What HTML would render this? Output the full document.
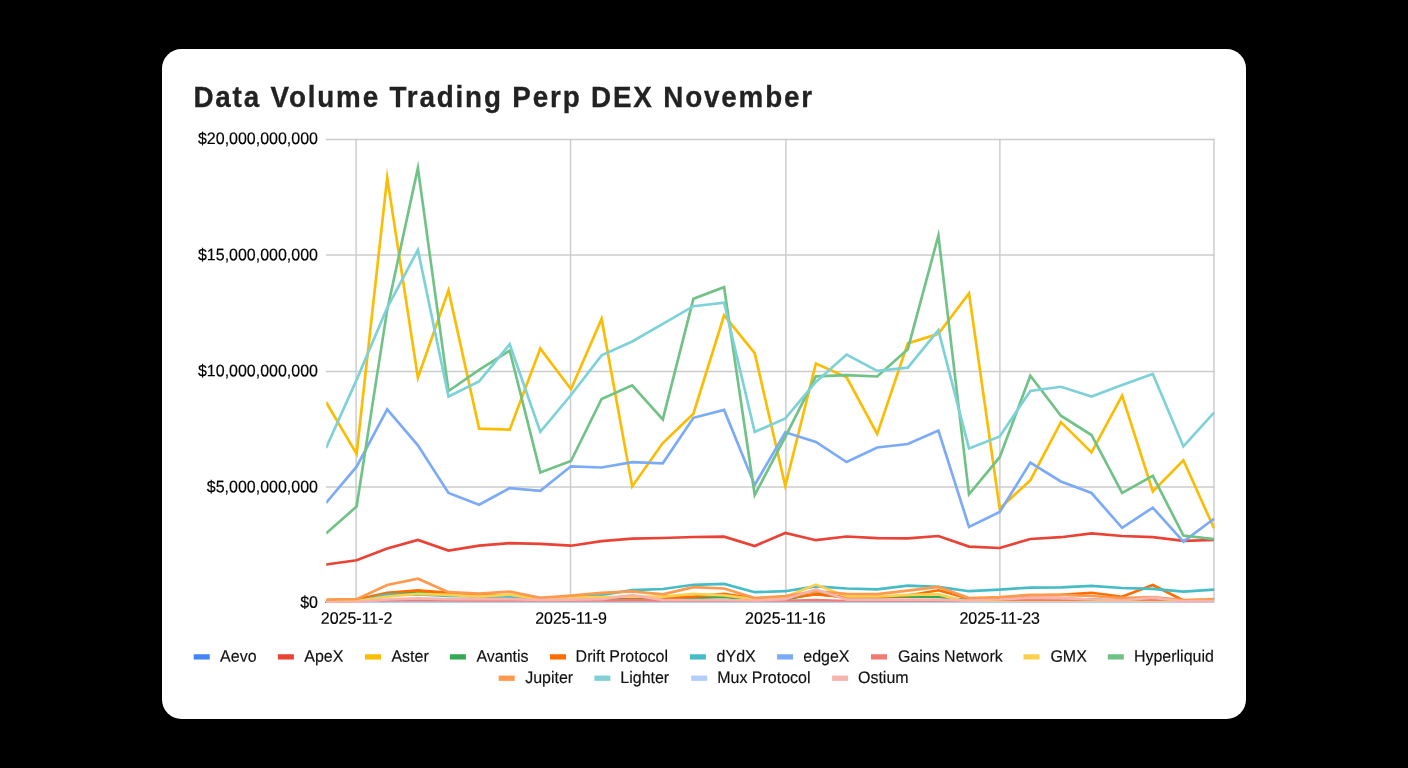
<!DOCTYPE html>
<html lang="en"><head><meta charset="utf-8"><title>Data Volume Trading Perp DEX November</title>
<style>
html,body{margin:0;padding:0;background:#000;}
body{width:1408px;height:768px;position:relative;overflow:hidden;font-family:"Liberation Sans",Arial,sans-serif;}
.card{position:absolute;left:162px;top:48.7px;width:1084px;height:670.3px;background:#fff;border-radius:19.5px;overflow:hidden;}
.title{position:absolute;left:31.4px;top:32.2px;margin:0;font-size:27.8px;line-height:34px;font-weight:700;color:#222;-webkit-text-stroke:0.3px #222;letter-spacing:1.84px;transform:scaleY(1.047);transform-origin:0 26px;white-space:nowrap;}
svg.chart{position:absolute;left:0;top:0.3px;}
svg text{font-family:"Liberation Sans",Arial,sans-serif;font-size:16px;fill:#000;stroke:#000;stroke-width:0.16px;}
svg .lg text{fill:#111;stroke:#111;}
</style></head><body>
<div class="card">
<h1 class="title">Data Volume Trading Perp DEX November</h1>
<svg class="chart" width="1084" height="670" viewBox="162 49 1084 670">
<defs><clipPath id="plot"><rect x="326.2" y="100" width="888.5" height="503.05"/></clipPath></defs>
<g stroke="#cccccc" stroke-width="1.45" fill="none">
<line x1="325.9" y1="139.45" x2="1214.7" y2="139.45"/>
<line x1="325.9" y1="254.95" x2="1214.7" y2="254.95"/>
<line x1="325.9" y1="371.45" x2="1214.7" y2="371.45"/>
<line x1="325.9" y1="486.95" x2="1214.7" y2="486.95"/>
<line x1="356.1" y1="138.7" x2="356.1" y2="602.6"/>
<line x1="570.5" y1="138.7" x2="570.5" y2="602.6"/>
<line x1="785.9" y1="138.7" x2="785.9" y2="602.6"/>
<line x1="999.9" y1="138.7" x2="999.9" y2="602.6"/>
<line x1="1214.0" y1="138.7" x2="1214.0" y2="602.6"/>
</g>
<line x1="325.3" y1="602.45" x2="1214.0" y2="602.45" stroke="#333333" stroke-width="1.33"/>
<g fill="none" stroke-width="2.67" stroke-linejoin="miter" stroke-miterlimit="100" stroke-linecap="butt" clip-path="url(#plot)">
<path d="M326.0,603.0 L356.6,603.0 L387.2,603.0 L417.9,603.0 L448.5,603.0 L479.1,603.0 L509.7,603.0 L540.3,603.0 L571.0,603.0 L601.6,603.0 L632.2,603.0 L662.8,603.0 L693.4,603.0 L724.1,603.0 L754.7,603.0 L785.3,603.0 L815.9,603.0 L846.6,603.0 L877.2,603.0 L907.8,603.0 L938.4,603.0 L969.0,603.0 L999.7,603.0 L1030.3,603.0 L1060.9,603.0 L1091.5,603.0 L1122.1,603.0 L1152.8,603.0 L1183.4,603.0 L1214.0,603.0" stroke="#4285f4"/>
<path d="M326.0,564.5 L356.6,560.3 L387.2,548.5 L417.9,540.0 L448.5,550.6 L479.1,545.7 L509.7,543.2 L540.3,543.8 L571.0,545.7 L601.6,541.1 L632.2,538.7 L662.8,538.0 L693.4,537.0 L724.1,536.7 L754.7,546.0 L785.3,532.9 L815.9,540.2 L846.6,536.5 L877.2,538.2 L907.8,538.3 L938.4,536.0 L969.0,546.6 L999.7,548.0 L1030.3,539.0 L1060.9,537.2 L1091.5,533.4 L1122.1,536.0 L1152.8,537.2 L1183.4,540.9 L1214.0,540.0" stroke="#ea4335"/>
<path d="M326.0,402.0 L356.6,453.9 L387.2,177.6 L417.9,377.8 L448.5,290.4 L479.1,428.6 L509.7,429.6 L540.3,348.6 L571.0,389.2 L601.6,318.9 L632.2,486.5 L662.8,443.0 L693.4,413.7 L724.1,315.4 L754.7,353.2 L785.3,486.0 L815.9,363.5 L846.6,377.3 L877.2,433.9 L907.8,343.4 L938.4,333.8 L969.0,293.3 L999.7,508.5 L1030.3,480.3 L1060.9,422.1 L1091.5,452.4 L1122.1,395.7 L1152.8,491.4 L1183.4,460.3 L1214.0,528.2" stroke="#fbbc04"/>
<path d="M326.0,602.0 L356.6,601.0 L387.2,594.6 L417.9,592.2 L448.5,594.5 L479.1,596.5 L509.7,597.5 L540.3,600.0 L571.0,599.5 L601.6,599.0 L632.2,598.4 L662.8,599.0 L693.4,598.0 L724.1,597.0 L754.7,600.0 L785.3,599.5 L815.9,593.8 L846.6,597.5 L877.2,597.5 L907.8,596.5 L938.4,597.0 L969.0,600.3 L999.7,600.0 L1030.3,598.6 L1060.9,598.6 L1091.5,599.5 L1122.1,600.5 L1152.8,600.0 L1183.4,601.0 L1214.0,601.0" stroke="#34a853"/>
<path d="M326.0,601.5 L356.6,599.5 L387.2,592.9 L417.9,590.4 L448.5,592.9 L479.1,594.5 L509.7,595.5 L540.3,599.0 L571.0,598.0 L601.6,597.5 L632.2,597.0 L662.8,598.1 L693.4,596.7 L724.1,593.8 L754.7,598.6 L785.3,598.0 L815.9,594.4 L846.6,597.0 L877.2,597.0 L907.8,595.5 L938.4,590.3 L969.0,598.6 L999.7,598.0 L1030.3,595.5 L1060.9,594.9 L1091.5,592.8 L1122.1,596.7 L1152.8,585.0 L1183.4,600.4 L1214.0,600.5" stroke="#ff6d01"/>
<path d="M326.0,602.0 L356.6,601.5 L387.2,594.6 L417.9,594.5 L448.5,596.0 L479.1,596.5 L509.7,597.0 L540.3,598.1 L571.0,597.0 L601.6,595.0 L632.2,590.1 L662.8,589.0 L693.4,584.8 L724.1,583.9 L754.7,592.2 L785.3,591.2 L815.9,586.4 L846.6,588.5 L877.2,589.3 L907.8,585.6 L938.4,586.9 L969.0,591.2 L999.7,589.6 L1030.3,587.6 L1060.9,587.4 L1091.5,585.8 L1122.1,588.0 L1152.8,588.8 L1183.4,591.7 L1214.0,589.6" stroke="#46bdc6"/>
<path d="M326.0,503.0 L356.6,466.7 L387.2,409.4 L417.9,445.4 L448.5,493.0 L479.1,504.7 L509.7,488.1 L540.3,490.9 L571.0,466.3 L601.6,467.5 L632.2,462.2 L662.8,463.3 L693.4,417.8 L724.1,409.9 L754.7,485.0 L785.3,432.3 L815.9,441.9 L846.6,462.0 L877.2,447.5 L907.8,444.0 L938.4,430.5 L969.0,526.9 L999.7,512.0 L1030.3,462.6 L1060.9,481.5 L1091.5,493.0 L1122.1,527.8 L1152.8,507.7 L1183.4,541.6 L1214.0,518.7" stroke="#7baaf7"/>
<path d="M326.0,602.8 L356.6,602.3 L387.2,600.5 L417.9,600.2 L448.5,600.5 L479.1,600.9 L509.7,600.9 L540.3,601.2 L571.0,601.0 L601.6,600.9 L632.2,600.2 L662.8,600.8 L693.4,600.6 L724.1,600.6 L754.7,601.0 L785.3,600.8 L815.9,600.2 L846.6,601.0 L877.2,601.0 L907.8,601.0 L938.4,601.0 L969.0,601.0 L999.7,600.6 L1030.3,599.9 L1060.9,600.2 L1091.5,600.6 L1122.1,600.8 L1152.8,599.9 L1183.4,601.3 L1214.0,601.2" stroke="#f07b72"/>
<path d="M326.0,602.0 L356.6,601.0 L387.2,596.7 L417.9,593.8 L448.5,594.9 L479.1,596.6 L509.7,594.6 L540.3,599.5 L571.0,597.6 L601.6,597.0 L632.2,596.5 L662.8,596.7 L693.4,593.8 L724.1,595.4 L754.7,599.2 L785.3,597.0 L815.9,584.6 L846.6,596.5 L877.2,596.5 L907.8,594.9 L938.4,594.4 L969.0,602.3 L999.7,602.3 L1030.3,602.3 L1060.9,602.3 L1091.5,602.3 L1122.1,602.3 L1152.8,602.3 L1183.4,602.3 L1214.0,602.3" stroke="#fcd04f"/>
<path d="M326.0,533.6 L356.6,506.5 L387.2,309.9 L417.9,167.9 L448.5,391.0 L479.1,369.8 L509.7,350.5 L540.3,472.4 L571.0,461.0 L601.6,399.0 L632.2,385.4 L662.8,419.4 L693.4,298.8 L724.1,287.2 L754.7,495.0 L785.3,436.8 L815.9,376.4 L846.6,375.2 L877.2,376.5 L907.8,349.2 L938.4,235.5 L969.0,494.3 L999.7,457.2 L1030.3,375.7 L1060.9,415.7 L1091.5,435.0 L1122.1,492.8 L1152.8,475.8 L1183.4,535.6 L1214.0,539.1" stroke="#71c287"/>
<path d="M326.0,599.5 L356.6,599.1 L387.2,585.0 L417.9,578.7 L448.5,592.2 L479.1,593.7 L509.7,591.7 L540.3,597.8 L571.0,595.6 L601.6,592.8 L632.2,591.4 L662.8,594.4 L693.4,587.1 L724.1,588.5 L754.7,598.1 L785.3,596.0 L815.9,591.4 L846.6,593.8 L877.2,594.2 L907.8,590.6 L938.4,586.9 L969.0,598.1 L999.7,597.0 L1030.3,594.9 L1060.9,594.9 L1091.5,596.0 L1122.1,598.1 L1152.8,597.0 L1183.4,600.2 L1214.0,599.2" stroke="#ff994d"/>
<path d="M326.0,448.0 L356.6,379.9 L387.2,307.8 L417.9,249.9 L448.5,396.5 L479.1,381.4 L509.7,344.3 L540.3,431.8 L571.0,395.0 L601.6,355.4 L632.2,341.5 L662.8,323.9 L693.4,306.2 L724.1,302.6 L754.7,431.9 L785.3,418.4 L815.9,382.0 L846.6,354.5 L877.2,370.9 L907.8,367.7 L938.4,330.1 L969.0,448.4 L999.7,436.4 L1030.3,391.0 L1060.9,386.8 L1091.5,396.5 L1122.1,385.0 L1152.8,374.0 L1183.4,446.4 L1214.0,412.7" stroke="#7ed1d7"/>
<path d="M326.0,603.0 L356.6,603.0 L387.2,603.0 L417.9,603.0 L448.5,603.0 L479.1,603.0 L509.7,603.0 L540.3,603.0 L571.0,603.0 L601.6,603.0 L632.2,603.0 L662.8,603.0 L693.4,603.0 L724.1,603.0 L754.7,603.0 L785.3,603.0 L815.9,603.0 L846.6,603.0 L877.2,603.0 L907.8,603.0 L938.4,603.0 L969.0,603.0 L999.7,603.0 L1030.3,603.0 L1060.9,603.0 L1091.5,603.0 L1122.1,603.0 L1152.8,603.0 L1183.4,603.0 L1214.0,603.0" stroke="#b3cefb"/>
<path d="M326.0,602.3 L356.6,601.9 L387.2,599.5 L417.9,598.4 L448.5,599.2 L479.1,599.2 L509.7,599.2 L540.3,600.0 L571.0,599.6 L601.6,599.2 L632.2,595.2 L662.8,599.9 L693.4,600.0 L724.1,600.0 L754.7,600.5 L785.3,599.2 L815.9,589.3 L846.6,599.6 L877.2,599.6 L907.8,599.6 L938.4,599.6 L969.0,600.5 L999.7,599.5 L1030.3,597.6 L1060.9,598.1 L1091.5,599.5 L1122.1,600.5 L1152.8,597.6 L1183.4,601.3 L1214.0,601.0" stroke="#f7b4ae"/>
</g>
<g class="ax" text-anchor="end">
<text transform="translate(318 144.1) rotate(0.03) scale(1 1.04)">$20,000,000,000</text>
<text transform="translate(318 260.3) rotate(0.03) scale(1 1.04)">$15,000,000,000</text>
<text transform="translate(318 376.3) rotate(0.03) scale(1 1.04)">$10,000,000,000</text>
<text transform="translate(318 492.3) rotate(0.03) scale(1 1.04)">$5,000,000,000</text>
<text transform="translate(318 607.8) rotate(0.03) scale(1 1.04)">$0</text>
</g>
<g class="ax" text-anchor="middle">
<text transform="translate(356.6 623.8) rotate(0.03) scale(1 1.04)">2025-11-2</text>
<text transform="translate(571.0 623.8) rotate(0.03) scale(1 1.04)">2025-11-9</text>
<text transform="translate(785.3 623.8) rotate(0.03) scale(1 1.04)">2025-11-16</text>
<text transform="translate(999.7 623.8) rotate(0.03) scale(1 1.04)">2025-11-23</text>
</g>
<g class="lg">
<rect x="193.7" y="654.25" width="16" height="5.3" fill="#4285f4"/><text transform="translate(220.1 661.75) rotate(0.03) scale(1 1.04)">Aevo</text>
<rect x="277.9" y="654.25" width="16" height="5.3" fill="#ea4335"/><text transform="translate(304.3 661.75) rotate(0.03) scale(1 1.04)">ApeX</text>
<rect x="365" y="654.25" width="16" height="5.3" fill="#fbbc04"/><text transform="translate(391.4 661.75) rotate(0.03) scale(1 1.04)">Aster</text>
<rect x="449.9" y="654.25" width="16" height="5.3" fill="#34a853"/><text transform="translate(476.4 661.75) rotate(0.03) scale(1 1.04)">Avantis</text>
<rect x="550" y="654.25" width="16" height="5.3" fill="#ff6d01"/><text transform="translate(575.6 661.75) rotate(0.03) scale(1 1.04)">Drift Protocol</text>
<rect x="689.9" y="654.25" width="16" height="5.3" fill="#46bdc6"/><text transform="translate(716.6 661.75) rotate(0.03) scale(1 1.04)">dYdX</text>
<rect x="777.1" y="654.25" width="16" height="5.3" fill="#7baaf7"/><text transform="translate(803.3 661.75) rotate(0.03) scale(1 1.04)">edgeX</text>
<rect x="871" y="654.25" width="16" height="5.3" fill="#f07b72"/><text transform="translate(897.9 661.75) rotate(0.03) scale(1 1.04)">Gains Network</text>
<rect x="1023.5" y="654.25" width="16" height="5.3" fill="#fcd04f"/><text transform="translate(1050.4 661.75) rotate(0.03) scale(1 1.04)">GMX</text>
<rect x="1107.8" y="654.25" width="16" height="5.3" fill="#71c287"/><text transform="translate(1133.9 661.75) rotate(0.03) scale(1 1.04)">Hyperliquid</text>
<rect x="498.7" y="675.58" width="16" height="5.3" fill="#ff994d"/><text transform="translate(525.2 683.08) rotate(0.03) scale(1 1.04)">Jupiter</text>
<rect x="594.4" y="675.58" width="16" height="5.3" fill="#7ed1d7"/><text transform="translate(620.3 683.08) rotate(0.03) scale(1 1.04)">Lighter</text>
<rect x="691.2" y="675.58" width="16" height="5.3" fill="#b3cefb"/><text transform="translate(717.2 683.08) rotate(0.03) scale(1 1.04)">Mux Protocol</text>
<rect x="832.1" y="675.58" width="16" height="5.3" fill="#f7b4ae"/><text transform="translate(858.0 683.08) rotate(0.03) scale(1 1.04)">Ostium</text>
</g>
</svg>
</div>
</body></html>
